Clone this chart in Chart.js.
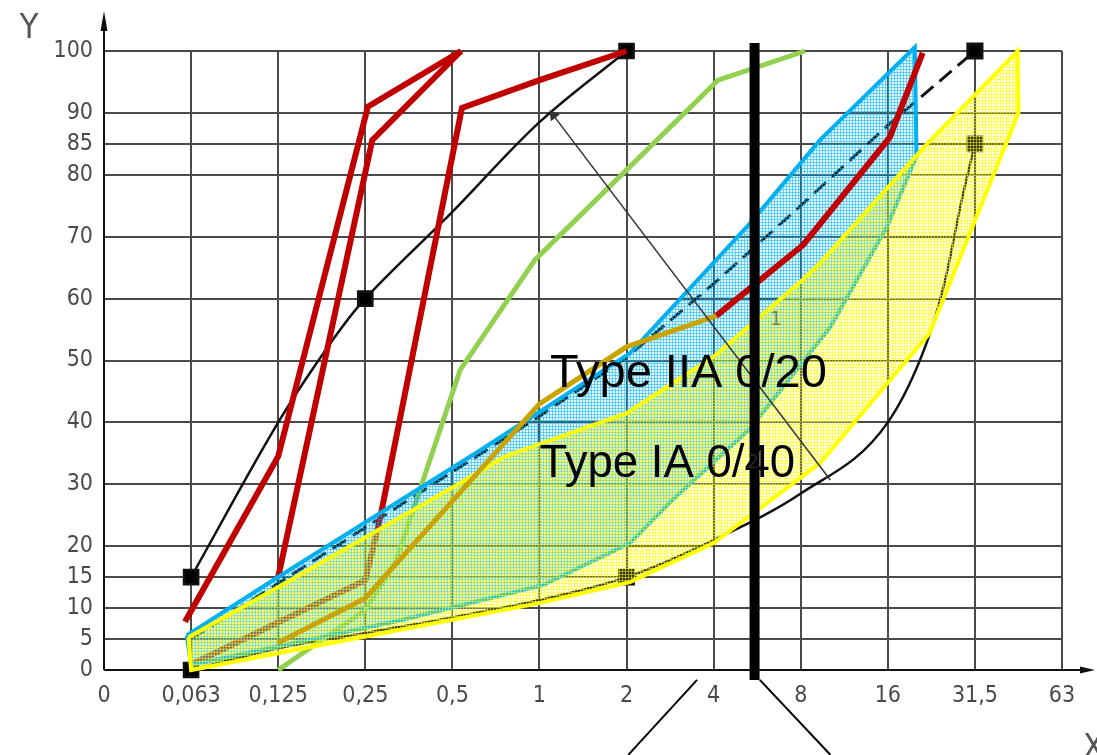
<!DOCTYPE html>
<html>
<head>
<meta charset="utf-8">
<script src="https://cdn.jsdelivr.net/npm/chart.js@4.4.0/dist/chart.umd.min.js"></script>
<style>
  html, body { margin: 0; padding: 0; background: #fff; }
  #wrap { width: 1097px; height: 755px; }
</style>
</head>
<body>
<div id="wrap"><canvas id="chart" width="1097" height="755"></canvas></div>
<script>
// sieve sizes on the x axis, drawn evenly spaced (position 0..11)
const sieveLabels = ["0", "0,063", "0,125", "0,25", "0,5", "1", "2", "4", "8", "16", "31,5", "63"];
const yTicks = [0, 5, 10, 15, 20, 30, 40, 50, 60, 70, 80, 85, 90, 100];

// [sieve position, % passing]
const upperCurve = [[1, 15], [2, 40], [2.6, 52.8], [3, 60], [4, 74], [5, 88.5], [6, 100]];
const upperSquares = [1, 0, 0, 1, 0, 0, 1];
const lowerCurve = [[1, 0], [2, 3.5], [3, 6], [4, 8.5], [5, 11.3], [6, 15], [7, 21], [8, 28.5], [9, 40], [9.45, 53], [9.65, 62.5], [9.85, 76], [10, 85]];
const lowerSquares = [1, 0, 0, 0, 0, 1, 0, 0, 0, 0, 0, 0, 1];
const dashedCurve = [[1, 5], [2, 14], [3, 23], [4, 32], [5, 41], [6, 50.5], [7, 62.4], [8, 75], [9, 88], [10, 100]];
const dashedSquares = [0, 0, 0, 0, 0, 0, 0, 0, 0, 1];

const redA = [[0.93, 7.8], [2, 34.5], [3.03, 91], [4.1, 100]];
const redB = [[2, 15], [3.08, 85.6], [4.1, 100]];
const redC = [[1.02, 1], [3, 14.5], [3.17, 24.5], [4.11, 90.8], [5, 95.3], [6, 100]];
const redD = [[7.03, 57.2], [8.03, 68.7], [9.02, 86], [9.4, 99.7]];
const goldLine = [[2, 4.4], [3, 11.6], [5, 43], [6, 52.2], [7.03, 57.2]];
const greenLine = [[2, 0], [3, 9.7], [3.35, 17.5], [4.09, 48.5], [4.95, 66.3], [7.05, 95.3], [8.05, 100]];

// grading envelopes (closed outlines)
const typeIIA = [[0.95, 5.6], [1.94, 14.5], [4.32, 35.5], [6.04, 51.2], [7.42, 72.2], [8.22, 85.6], [9.31, 100.6],
  [9.33, 83], [8.99, 71.6], [8.34, 55.4], [7.42, 39], [6.53, 27.5], [6.04, 20.5], [5.04, 13.7], [3.4, 8], [1, 0.8], [0.95, 5.6]];
const typeIA = [[0.97, 5.3], [2.14, 14.5], [4.09, 30.2], [4.6, 34.5], [6, 41.5], [7, 50.6], [8.02, 63], [8.22, 65.7], [9.45, 85], [10.49, 100],
  [10.5, 90], [9.48, 54.4], [8.22, 33.4], [7, 20.5], [6.04, 14.2], [5, 10.8], [3.4, 6.5], [1, 0], [0.97, 5.3]];

const arrowLine = [[8.34, 30.7], [5.16, 89.6]];
const markerBar = [[7.47, 101.3], [7.47, -1.6]];
const calloutLeft = [[6.81, -1.6], [6.02, -13.7]];
const calloutRight = [[7.53, -1.6], [8.34, -13.7]];

const labels = [
  { text: "Type IIA 0/20", x: 5.12, y: 45.7 },
  { text: "Type IA 0/40", x: 5.0, y: 31.2 }
];
const smallMarks = [
  { text: "1", x: 7.65, y: 55.7 },
  { text: "2", x: 7.39, y: 32.6 }
];

const tickFont = '"DejaVu Sans Condensed", "Liberation Sans Narrow", "DejaVu Sans", sans-serif';
const toXY = arr => arr.map(([x, y]) => ({ x, y }));

// small grid hatch, like the screened fill of the scanned sheet
function hatch(line, base, offset) {
  const c = document.createElement("canvas");
  c.width = 3; c.height = 3;
  const g = c.getContext("2d");
  g.fillStyle = base;
  g.fillRect(0, 0, 3, 3);
  g.clearRect(offset, offset, 1, 1);
  g.fillStyle = line;
  g.fillRect(0, offset, 3, 1);
  g.fillRect(offset, 0, 1, 3);
  return g.createPattern(c, "repeat");
}

function series(data, color, width, order, extra) {
  return Object.assign({
    data: toXY(data),
    borderColor: color,
    backgroundColor: color,
    borderWidth: width,
    pointRadius: 0,
    fill: false,
    clip: false,
    order: order
  }, extra || {});
}

const squares = flags => flags.map(f => f ? 10 : 0);

const datasets = [
  series(markerBar, "#000", 10, 1),
  series(calloutLeft, "#000", 2, 1),
  series(calloutRight, "#000", 2, 1),
  series(arrowLine, "#333", 1.5, 2, {
    pointRadius: [0, 5], pointStyle: "triangle", pointRotation: -37, backgroundColor: "#333"
  }),
  series(goldLine, "#c9a300", 5, 3),
  series(redD, "#c00000", 6, 4),
  series(typeIA, "#ffff00", 4, 5, { fill: "shape", backgroundColor: hatch("rgba(255,255,0,0.55)", "rgba(255,255,110,0.18)", 1) }),
  series(typeIIA, "#00b0f0", 4, 6, { fill: "shape", backgroundColor: hatch("rgba(0,176,240,0.5)", "rgba(0,176,240,0.12)", 0) }),
  series(redA, "#c00000", 6, 8),
  series(redB, "#c00000", 6, 8),
  series(redC, "#c00000", 6, 8),
  series(greenLine, "#92d050", 5, 9),
  series(upperCurve, "#111", 2.5, 10, { tension: 0.35, pointStyle: "rect", pointRadius: squares(upperSquares), backgroundColor: "#000" }),
  series(lowerCurve, "#111", 2.5, 10, { cubicInterpolationMode: "monotone", pointStyle: "rect", pointRadius: squares(lowerSquares), backgroundColor: "#000" }),
  series(dashedCurve, "#111", 3, 10, { borderDash: [16, 8], pointStyle: "rect", pointRadius: squares(dashedSquares), backgroundColor: "#000" })
];

const decorations = {
  id: "decorations",
  beforeDatasetsDraw(chart) {
    const { ctx, chartArea: a } = chart;
    ctx.save();
    ctx.strokeStyle = "#111";
    ctx.fillStyle = "#111";
    ctx.lineWidth = 2;
    // axes with arrows
    ctx.beginPath();
    ctx.moveTo(a.left, a.bottom);
    ctx.lineTo(a.left, a.top - 30);
    ctx.moveTo(a.left, a.bottom);
    ctx.lineTo(a.right + 22, a.bottom);
    ctx.stroke();
    ctx.beginPath();
    ctx.moveTo(a.left, a.top - 40);
    ctx.lineTo(a.left - 3.5, a.top - 20);
    ctx.lineTo(a.left + 3.5, a.top - 20);
    ctx.closePath();
    ctx.fill();
    ctx.beginPath();
    ctx.moveTo(a.right + 33, a.bottom);
    ctx.lineTo(a.right + 18, a.bottom - 3.5);
    ctx.lineTo(a.right + 18, a.bottom + 3.5);
    ctx.closePath();
    ctx.fill();
    // axis names
    ctx.fillStyle = "#555";
    ctx.font = "34px " + tickFont;
    ctx.textAlign = "center";
    ctx.textBaseline = "alphabetic";
    ctx.fillText("Y", a.left - 75, a.top - 13);
    ctx.textAlign = "left";
    ctx.fillText("X", a.right + 21, a.bottom + 88);
    ctx.restore();
  },
  afterDatasetsDraw(chart) {
    const { ctx, scales: { x, y } } = chart;
    ctx.save();
    ctx.textBaseline = "alphabetic";
    ctx.textAlign = "left";
    ctx.fillStyle = "#000";
    ctx.font = '47px "Liberation Sans", Arial, sans-serif';
    labels.forEach(l => {
      const w = l.text.length * 21.3;
      ctx.fillText(l.text, x.getPixelForValue(l.x), y.getPixelForValue(l.y), w);
    });
    ctx.fillStyle = "rgba(60,60,60,0.6)";
    ctx.font = "20px " + tickFont;
    smallMarks.forEach(m => ctx.fillText(m.text, x.getPixelForValue(m.x), y.getPixelForValue(m.y)));
    ctx.restore();
  }
};

new Chart(document.getElementById("chart"), {
  type: "line",
  data: { datasets },
  options: {
    responsive: false,
    animation: false,
    devicePixelRatio: 1,
    layout: { padding: { top: 51, right: 35, left: 0, bottom: 0 } },
    plugins: { legend: { display: false }, tooltip: { enabled: false } },
    scales: {
      x: {
        type: "linear",
        min: 0,
        max: 11,
        afterFit: s => { s.height = 85; },
        border: { display: false },
        grid: { color: "#4a4a4a", lineWidth: 2, drawTicks: false },
        ticks: {
          stepSize: 1,
          padding: 12,
          color: "#4a4a4a",
          font: { family: tickFont, size: 23 },
          maxRotation: 0,
          autoSkip: false,
          callback: v => sieveLabels[v]
        }
      },
      y: {
        type: "linear",
        min: 0,
        max: 100,
        afterFit: s => { s.width = 104; },
        afterBuildTicks: s => { s.ticks = yTicks.map(v => ({ value: v })); },
        border: { display: false },
        grid: { color: "#4a4a4a", lineWidth: 2, drawTicks: false },
        ticks: {
          padding: 11,
          color: "#4a4a4a",
          font: { family: tickFont, size: 23 }
        }
      }
    }
  },
  plugins: [decorations]
});
</script>
</body>
</html>
